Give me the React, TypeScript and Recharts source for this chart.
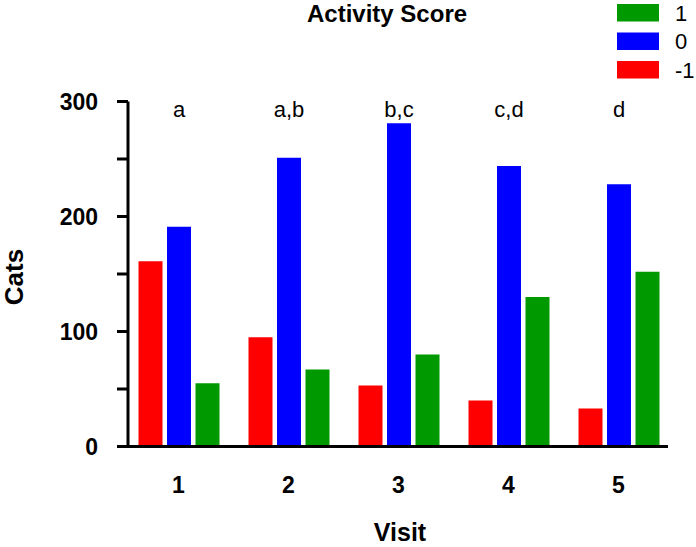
import { Bar, BarChart, LabelList, Legend, XAxis, YAxis } from 'recharts'

const visits = ['1', '2', '3', '4', '5']
const scoreMinus = [161, 95, 53, 40, 33]
const scoreZero = [191, 251, 281, 244, 228]
const scorePlus = [55, 67, 80, 130, 152]
const groupLetters = ['a', 'a,b', 'b,c', 'c,d', 'd']
const yTicks = [0, 50, 100, 150, 200, 250, 300]

const data = visits.map((v, i) => ({
  visit: v,
  minus: scoreMinus[i],
  zero: scoreZero[i],
  plus: scorePlus[i],
  letter: groupLetters[i],
}))

const FONT = '"Liberation Sans", Arial, sans-serif'
const TOP = 101.5

const YTick = (props: any) => {
  const { x, y, payload } = props
  if (payload.value % 100 !== 0) return null
  return (
    <text x={x} y={y + 8} textAnchor='end' fontFamily={FONT} fontSize={23} fontWeight='bold' fill='#000'>
      {payload.value}
    </text>
  )
}

const XTick = (props: any) => {
  const { x, y, payload } = props
  return (
    <text x={x} y={y + 46} textAnchor='middle' fontFamily={FONT} fontSize={23} fontWeight='bold' fill='#000'>
      {payload.value}
    </text>
  )
}

const LetterLabel = (props: any) => {
  const { x, width, value } = props
  return (
    <text x={x + width / 2} y={TOP + 15} textAnchor='middle' fontFamily={FONT} fontSize={22} fill='#000'>
      {value}
    </text>
  )
}

const LegendBox = (props: any) => {
  const items = [...(props.payload || [])].reverse()
  return (
    <svg width={80} height={85} style={{ display: 'block' }}>
      {items.map((item: any, i: number) => (
        <g key={item.value}>
          <rect x={0} y={4 + i * 28.5} width={42} height={17.5} fill={item.color} />
          <text x={58} y={21 + i * 28.3} fontFamily={FONT} fontSize={22} fill='#000'>
            {item.value}
          </text>
        </g>
      ))}
    </svg>
  )
}

export default function App() {
  return (
    <div style={{ position: 'absolute', left: 0, top: 0, width: 696, height: 547, background: '#fff' }}>
      <BarChart
        width={696}
        height={547}
        data={data}
        margin={{ top: TOP, right: 28, bottom: 60.5, left: 48 }}
        barGap={4.5}
        barSize={24}
      >
        <text x={307} y={21.5} fontFamily={FONT} fontSize={24} fontWeight='bold' fill='#000'>
          Activity Score
        </text>
        <XAxis
          dataKey='visit'
          height={40}
          padding={{ left: -4.5, right: -5.5 }}
          axisLine={{ stroke: '#000', strokeWidth: 3 }}
          tickLine={false}
          tickSize={0}
          tickMargin={0}
          tick={<XTick />}
          label={{
            value: 'Visit',
            content: () => (
              <text x={400} y={541} textAnchor='middle' fontFamily={FONT} fontSize={25} fontWeight='bold' fill='#000'>
                Visit
              </text>
            ),
          }}
        />
        <YAxis
          width={80}
          domain={[0, 300]}
          ticks={yTicks}
          interval={0}
          axisLine={{ stroke: '#000', strokeWidth: 3 }}
          tickLine={{ stroke: '#000', strokeWidth: 3 }}
          tickSize={11}
          tickMargin={19}
          tick={<YTick />}
          label={{
            value: 'Cats',
            content: () => (
              <text
                x={23}
                y={277}
                transform='rotate(-90 23 277)'
                textAnchor='middle'
                fontFamily={FONT}
                fontSize={26}
                fontWeight='bold'
                fill='#000'
              >
                Cats
              </text>
            ),
          }}
        />
        <Legend
          layout='vertical'
          align='center'
          verticalAlign='middle'
          content={<LegendBox />}
          wrapperStyle={{ left: 617, top: 0, width: 80, height: 85 }}
        />
        <Bar dataKey='minus' name='-1' fill='#ff0000' isAnimationActive={false} />
        <Bar dataKey='zero' name='0' fill='#0000ff' isAnimationActive={false}>
          <LabelList dataKey='letter' content={<LetterLabel />} />
        </Bar>
        <Bar dataKey='plus' name='1' fill='#009900' isAnimationActive={false} />
      </BarChart>
    </div>
  )
}
